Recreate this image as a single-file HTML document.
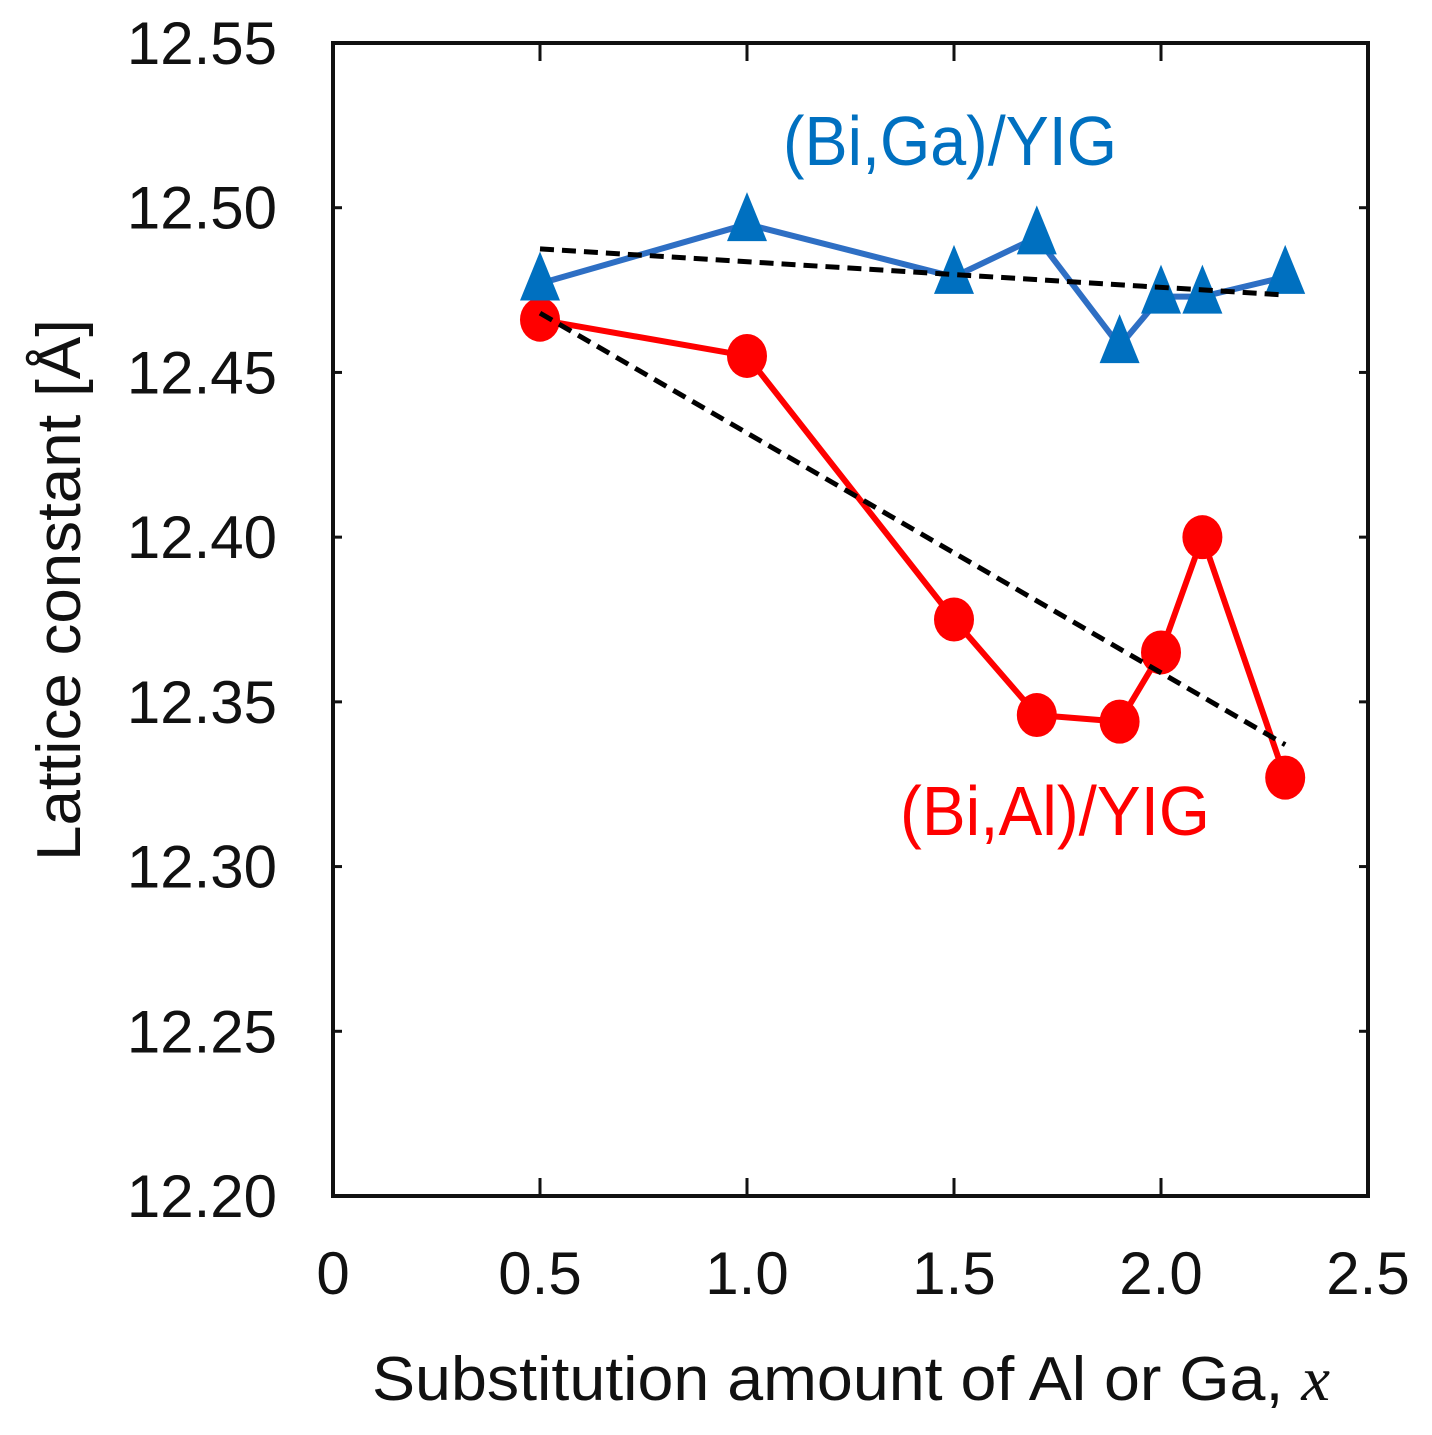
<!DOCTYPE html>
<html><head><meta charset="utf-8"><style>
html,body{margin:0;padding:0;background:#fff;}
svg{display:block;}
</style></head><body>
<svg id="chart" width="1432" height="1435" viewBox="0 0 1432 1435" xmlns="http://www.w3.org/2000/svg">
<rect width="1432" height="1435" fill="#fff"/>
<g id="axes"></g>
<g id="series"></g>
<text transform="translate(80,590) rotate(-90)" text-anchor="middle" font-family="Liberation Sans, sans-serif" font-size="62" textLength="542" lengthAdjust="spacingAndGlyphs" fill="#111">Lattice constant [Å]</text>
<text x="851" y="1400" text-anchor="middle" font-family="Liberation Sans, sans-serif" font-size="62" textLength="958" lengthAdjust="spacingAndGlyphs" fill="#111">Substitution amount of Al or Ga, <tspan font-family="Liberation Serif, serif" font-style="italic">x</tspan></text>
<text x="950" y="165" text-anchor="middle" font-family="Liberation Sans, sans-serif" font-size="70" textLength="334" lengthAdjust="spacingAndGlyphs" fill="#0070c0">(Bi,Ga)/YIG</text>
<text x="1055" y="835" text-anchor="middle" font-family="Liberation Sans, sans-serif" font-size="70" textLength="310" lengthAdjust="spacingAndGlyphs" fill="#ff0000">(Bi,Al)/YIG</text>
</svg>
<script>
const xTicks = [0, 0.5, 1.0, 1.5, 2.0, 2.5];
const xTickLabels = ["0", "0.5", "1.0", "1.5", "2.0", "2.5"];
const yTicks = [12.20, 12.25, 12.30, 12.35, 12.40, 12.45, 12.50, 12.55];
const yTickLabels = ["12.20", "12.25", "12.30", "12.35", "12.40", "12.45", "12.50", "12.55"];
const xValues = [0.5, 1.0, 1.5, 1.7, 1.9, 2.0, 2.1, 2.3];
const gaValues = [12.477, 12.495, 12.479, 12.491, 12.458, 12.473, 12.473, 12.479];
const alValues = [12.466, 12.455, 12.375, 12.346, 12.344, 12.365, 12.400, 12.327];
const gaFitX = [0.5, 2.3];
const gaFitY = [12.4875, 12.4735];
const alFitX = [0.5, 2.3];
const alFitY = [12.468, 12.337];

const L = 333, R = 1368, T = 43, B = 1196;
const X0 = 0, X1 = 2.5, Y0 = 12.20, Y1 = 12.55;
const sx = v => L + (v - X0) / (X1 - X0) * (R - L);
const sy = v => B - (v - Y0) / (Y1 - Y0) * (B - T);
const NS = "http://www.w3.org/2000/svg";
function mk(tag, attrs, parent) {
  const e = document.createElementNS(NS, tag);
  for (const k in attrs) e.setAttribute(k, attrs[k]);
  parent.appendChild(e);
  return e;
}
const axes = document.getElementById('axes');
const series = document.getElementById('series');

const frame = mk('rect', {x: L, y: T, width: R - L, height: B - T, fill: 'none', stroke: '#111', 'stroke-width': 4}, axes);



xTicks.forEach((v, i) => {
  const x = sx(v);
  if (i > 0 && i < xTicks.length - 1) {
    const t1 = mk('line', {x1: x, x2: x, y1: B, y2: B - 18, stroke: '#111', 'stroke-width': 3}, axes);
    
    
    const t2 = mk('line', {x1: x, x2: x, y1: T, y2: T + 18, stroke: '#111', 'stroke-width': 3}, axes);
    
    
  }
  const lb = mk('text', {x: x, y: 1294, 'text-anchor': 'middle', 'font-family': 'Liberation Sans, sans-serif', 'font-size': 60, fill: '#111'}, axes);
  lb.textContent = xTickLabels[i];
  
  
});
yTicks.forEach((v, i) => {
  const y = sy(v);
  if (i > 0 && i < yTicks.length - 1) {
    const t1 = mk('line', {x1: L, x2: L + 9, y1: y, y2: y, stroke: '#111', 'stroke-width': 3}, axes);
    
    
    const t2 = mk('line', {x1: R, x2: R - 9, y1: y, y2: y, stroke: '#111', 'stroke-width': 3}, axes);
    
    
  }
  const lb = mk('text', {x: 277, y: y + 21, 'text-anchor': 'end', 'font-family': 'Liberation Sans, sans-serif', 'font-size': 60, fill: '#111'}, axes);
  lb.textContent = yTickLabels[i];
  
  
});

function pts(xs, ys) { return xs.map((x, i) => sx(x) + ',' + sy(ys[i])).join(' '); }

const gaLine = mk('polyline', {points: pts(xValues, gaValues), fill: 'none', stroke: '#2e6fc4', 'stroke-width': 6, 'stroke-linejoin': 'round'}, series);


const alLine = mk('polyline', {points: pts(xValues, alValues), fill: 'none', stroke: '#ff0000', 'stroke-width': 6, 'stroke-linejoin': 'round'}, series);



xValues.forEach((x, i) => {
  const cx = sx(x), cy = sy(alValues[i]);
  const c = mk('ellipse', {cx: cx, cy: cy, rx: 20, ry: 22, fill: '#ff0000'}, series);
  
  
});
xValues.forEach((x, i) => {
  const cx = sx(x), cy = sy(gaValues[i]);
  const tri = mk('polygon', {points: `${cx},${cy - 32} ${cx - 20},${cy + 17} ${cx + 20},${cy + 17}`, fill: '#0070c0'}, series);
  
  
});

const gf = mk('line', {x1: sx(gaFitX[0]), y1: sy(gaFitY[0]), x2: sx(gaFitX[1]), y2: sy(gaFitY[1]), stroke: '#000', 'stroke-width': 5, 'stroke-dasharray': '14,8'}, series);


const af = mk('line', {x1: sx(alFitX[0]), y1: sy(alFitY[0]), x2: sx(alFitX[1]), y2: sy(alFitY[1]), stroke: '#000', 'stroke-width': 5, 'stroke-dasharray': '14,8'}, series);


</script>
</body></html>
